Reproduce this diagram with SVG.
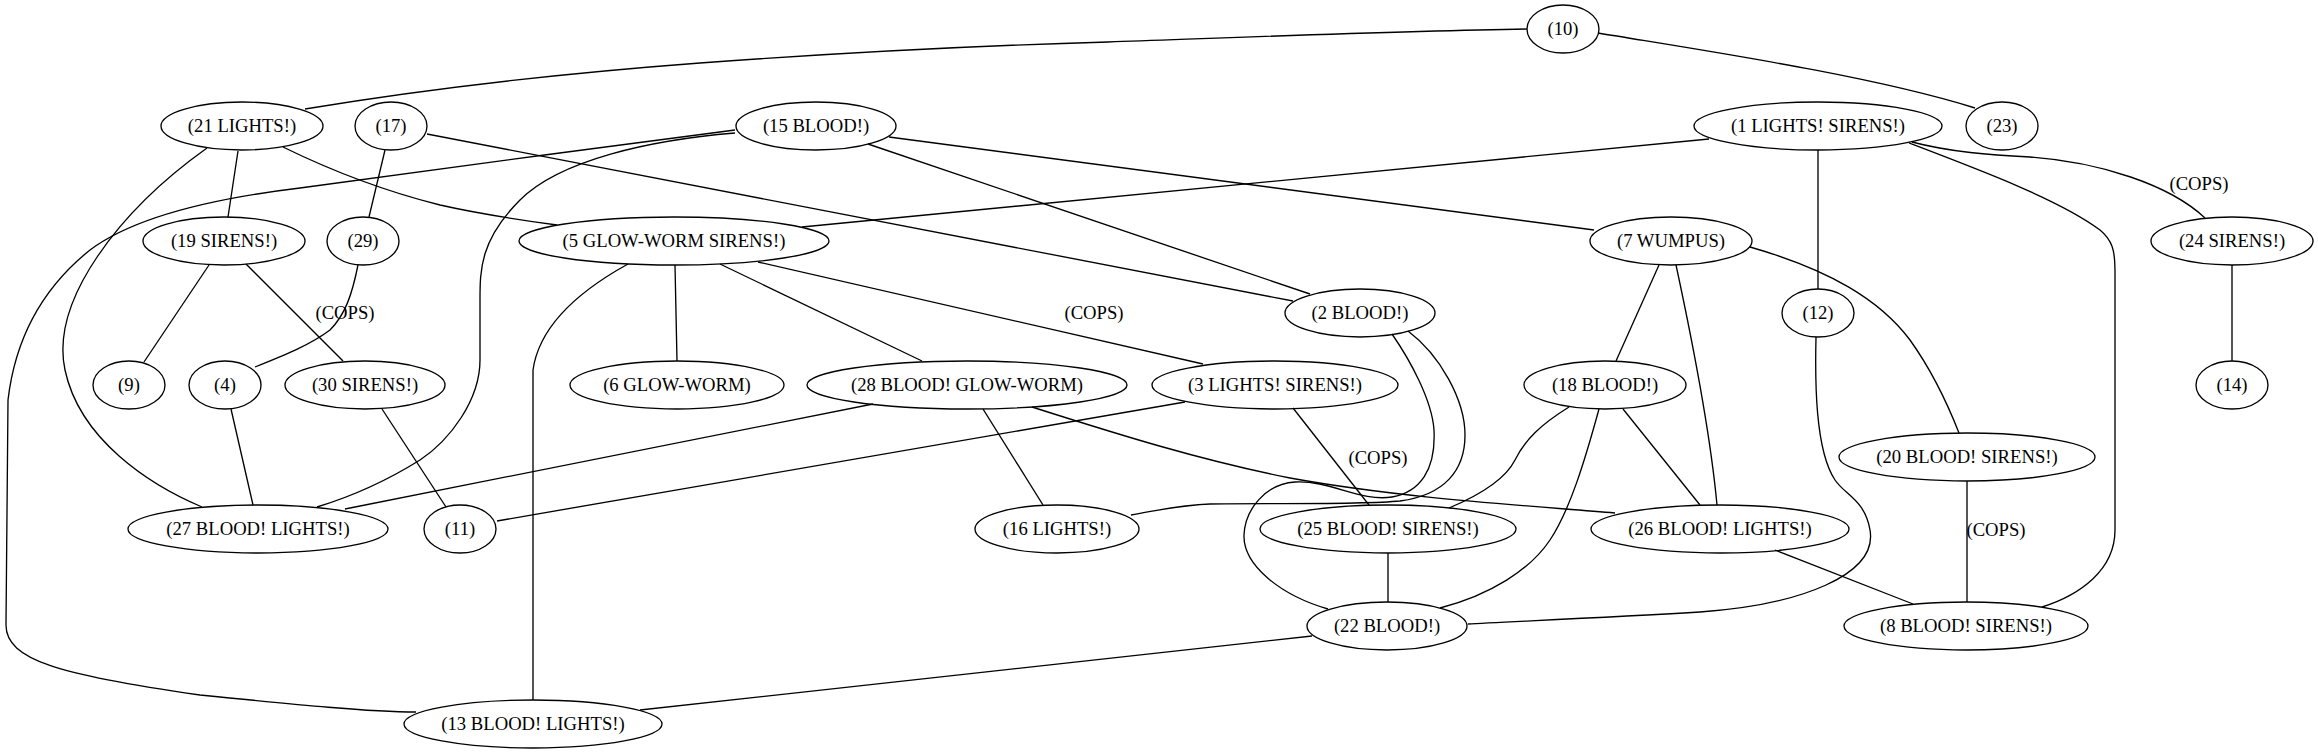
<svg xmlns="http://www.w3.org/2000/svg" width="2318" height="753" viewBox="0 0 2318 753">
<style>
.n ellipse{fill:none;stroke:#000;stroke-width:1.33}
text{font-family:"Liberation Serif","Times New Roman",serif;font-size:18.67px;fill:#000;text-anchor:middle}
.e path{fill:none;stroke:#000;stroke-width:1.33}
.lbl{text-anchor:middle}
</style>
<rect width="2318" height="753" fill="#fff"/>
<g id="edges" class="e">
<path d="M305,109 C450,85 580,72 700,63 C850,52 1000,45 1108,42 C1250,37 1400,31 1527,29"/>
<path d="M1598,33 C1700,50 1870,75 1975,108"/>
<path d="M238,151 L228,217"/>
<path d="M207,148 C120,210 50,300 65,370 C80,440 150,485 202,507"/>
<path d="M283,147 C330,170 380,190 440,205 C480,214 520,220 557,225"/>
<path d="M385,150 L369,217"/>
<path d="M427,134 L1293,301"/>
<path d="M735,130 C600,147 420,172 300,188 C200,200 130,220 90,250 C40,290 15,340 8,400 L6,625 C6,660 60,675 200,695 C300,705 370,712 416,712"/>
<path d="M735,133 C650,140 560,160 520,200 C480,240 480,270 480,300 L480,360 C480,400 450,440 420,460 C380,485 340,500 317,507"/>
<path d="M868,144 L1310,294"/>
<path d="M889,137 L1594,230"/>
<path d="M1709,139 L802,227"/>
<path d="M1818,150 L1818,289"/>
<path d="M1909,143 C1980,170 2060,200 2100,230 C2112,240 2115,250 2115,270 L2115,530 C2115,570 2080,595 2042,607"/>
<path d="M1912,142 C1950,152 1990,155 2030,157 C2100,162 2170,185 2205,218"/>
<path d="M209,265 L144,362"/>
<path d="M246,264 L343,361"/>
<path d="M358,265 C352,295 345,315 330,330 C310,345 285,355 255,367"/>
<path d="M675,265 L677,361"/>
<path d="M720,264 L922,361"/>
<path d="M758,262 L1203,364"/>
<path d="M628,264 C590,285 540,320 533,370 L533,700"/>
<path d="M1659,265 L1616,361"/>
<path d="M1676,265 C1690,330 1710,430 1717,505"/>
<path d="M1750,247 C1830,270 1880,300 1910,340 C1935,375 1950,410 1959,433"/>
<path d="M1408,331 C1440,355 1465,400 1465,435 C1465,470 1445,495 1400,501 C1360,505 1250,503 1210,504 C1180,505 1160,510 1131,515"/>
<path d="M1392,334 C1410,360 1432,400 1434,430 C1436,470 1420,492 1392,497 C1360,502 1330,480 1295,482 C1265,484 1245,510 1244,535 C1243,565 1280,595 1328,609"/>
<path d="M1816,337 C1815,380 1815,450 1835,480 C1845,495 1865,500 1870,530 C1878,575 1800,605 1700,612 C1600,618 1500,622 1468,624"/>
<path d="M2232,265 L2232,361"/>
<path d="M231,409 L253,505"/>
<path d="M382,409 L446,507"/>
<path d="M873,404 L345,509"/>
<path d="M983,409 L1043,505"/>
<path d="M1032,407 C1120,435 1200,460 1290,478 C1400,498 1520,505 1615,513"/>
<path d="M1185,402 L497,521"/>
<path d="M1293,408 L1369,505"/>
<path d="M1569,407 C1540,425 1525,440 1515,460 C1505,480 1480,495 1449,508"/>
<path d="M1623,409 L1700,505"/>
<path d="M1599,409 C1585,460 1570,510 1550,540 C1530,570 1490,595 1440,608"/>
<path d="M1967,481 L1967,602"/>
<path d="M1388,553 L1388,602"/>
<path d="M1775,550 L1913,604"/>
<path d="M1312,636 L640,710"/>
<text x="345" y="319">(COPS)</text>
<text x="1094" y="319">(COPS)</text>
<text x="1378" y="464">(COPS)</text>
<text x="2199" y="190">(COPS)</text>
<text x="1996" y="536">(COPS)</text>
</g>
<g id="n10" class="n"><ellipse cx="1563" cy="29" rx="36" ry="24"/><text x="1563" y="35">(10)</text></g>
<g id="n21" class="n"><ellipse cx="242" cy="126" rx="81" ry="24"/><text x="242" y="132">(21 LIGHTS!)</text></g>
<g id="n17" class="n"><ellipse cx="391" cy="126" rx="36" ry="24"/><text x="391" y="132">(17)</text></g>
<g id="n15" class="n"><ellipse cx="816" cy="126" rx="80" ry="24"/><text x="816" y="132">(15 BLOOD!)</text></g>
<g id="n1" class="n"><ellipse cx="1818" cy="126" rx="124" ry="24"/><text x="1818" y="132">(1 LIGHTS! SIRENS!)</text></g>
<g id="n23" class="n"><ellipse cx="2002" cy="126" rx="36" ry="24"/><text x="2002" y="132">(23)</text></g>
<g id="n19" class="n"><ellipse cx="224" cy="241" rx="81" ry="24"/><text x="224" y="247">(19 SIRENS!)</text></g>
<g id="n29" class="n"><ellipse cx="363" cy="241" rx="36" ry="24"/><text x="363" y="247">(29)</text></g>
<g id="n5" class="n"><ellipse cx="674" cy="241" rx="155" ry="24"/><text x="674" y="247">(5 GLOW-WORM SIRENS!)</text></g>
<g id="n7" class="n"><ellipse cx="1671" cy="241" rx="81" ry="24"/><text x="1671" y="247">(7 WUMPUS)</text></g>
<g id="n24" class="n"><ellipse cx="2232" cy="241" rx="81" ry="24"/><text x="2232" y="247">(24 SIRENS!)</text></g>
<g id="n2" class="n"><ellipse cx="1360" cy="313" rx="75" ry="24"/><text x="1360" y="319">(2 BLOOD!)</text></g>
<g id="n12" class="n"><ellipse cx="1818" cy="313" rx="36" ry="24"/><text x="1818" y="319">(12)</text></g>
<g id="n9" class="n"><ellipse cx="129" cy="385" rx="36" ry="24"/><text x="129" y="391">(9)</text></g>
<g id="n4" class="n"><ellipse cx="225" cy="385" rx="36" ry="24"/><text x="225" y="391">(4)</text></g>
<g id="n30" class="n"><ellipse cx="365" cy="385" rx="80" ry="24"/><text x="365" y="391">(30 SIRENS!)</text></g>
<g id="n6" class="n"><ellipse cx="677" cy="385" rx="107" ry="24"/><text x="677" y="391">(6 GLOW-WORM)</text></g>
<g id="n28" class="n"><ellipse cx="967" cy="385" rx="160" ry="24"/><text x="967" y="391">(28 BLOOD! GLOW-WORM)</text></g>
<g id="n3" class="n"><ellipse cx="1275" cy="385" rx="123" ry="24"/><text x="1275" y="391">(3 LIGHTS! SIRENS!)</text></g>
<g id="n18" class="n"><ellipse cx="1605" cy="385" rx="81" ry="24"/><text x="1605" y="391">(18 BLOOD!)</text></g>
<g id="n14" class="n"><ellipse cx="2232" cy="385" rx="36" ry="24"/><text x="2232" y="391">(14)</text></g>
<g id="n20" class="n"><ellipse cx="1967" cy="457" rx="128" ry="24"/><text x="1967" y="463">(20 BLOOD! SIRENS!)</text></g>
<g id="n27" class="n"><ellipse cx="258" cy="529" rx="130" ry="24"/><text x="258" y="535">(27 BLOOD! LIGHTS!)</text></g>
<g id="n11" class="n"><ellipse cx="460" cy="529" rx="36" ry="24"/><text x="460" y="535">(11)</text></g>
<g id="n16" class="n"><ellipse cx="1057" cy="529" rx="82" ry="24"/><text x="1057" y="535">(16 LIGHTS!)</text></g>
<g id="n25" class="n"><ellipse cx="1388" cy="529" rx="128" ry="24"/><text x="1388" y="535">(25 BLOOD! SIRENS!)</text></g>
<g id="n26" class="n"><ellipse cx="1720" cy="529" rx="129" ry="24"/><text x="1720" y="535">(26 BLOOD! LIGHTS!)</text></g>
<g id="n22" class="n"><ellipse cx="1387" cy="626" rx="80" ry="24"/><text x="1387" y="632">(22 BLOOD!)</text></g>
<g id="n8" class="n"><ellipse cx="1966" cy="626" rx="122" ry="24"/><text x="1966" y="632">(8 BLOOD! SIRENS!)</text></g>
<g id="n13" class="n"><ellipse cx="533" cy="724" rx="129" ry="24"/><text x="533" y="730">(13 BLOOD! LIGHTS!)</text></g>
</svg>
